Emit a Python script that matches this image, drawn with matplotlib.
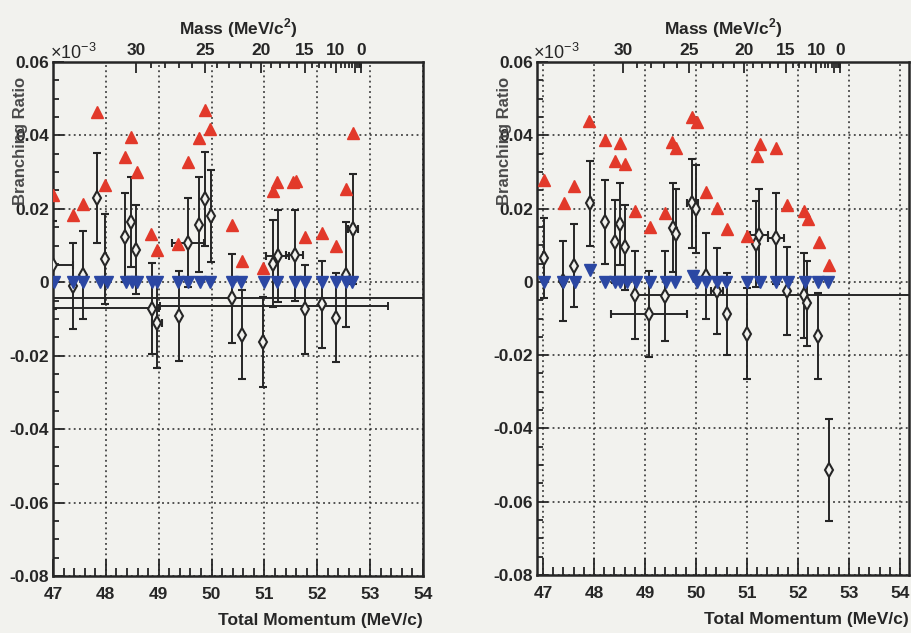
import numpy as np
import matplotlib
matplotlib.use("Agg")
import matplotlib.pyplot as plt
from matplotlib.ticker import MultipleLocator, FixedLocator, NullFormatter

plt.rcParams['font.family'] = ['Liberation Sans', 'DejaVu Sans']
plt.rcParams['mathtext.fontset'] = 'custom'
plt.rcParams['mathtext.rm'] = 'Liberation Sans'
plt.rcParams['mathtext.bf'] = 'Liberation Sans:bold'

BG = '#f2f2ee'
INK = '#262626'
RED = '#e2392a'
BLUE = '#2b47a3'

M_MU = 105.658
M_E = 0.511

# ---------------- left panel ----------------
L_up_p = [47.00, 47.37, 47.57, 47.83, 47.98, 48.36, 48.47, 48.58, 48.85, 48.97,
          49.37, 49.55, 49.76, 49.87, 49.97, 50.39, 50.58, 50.98, 51.16, 51.24,
          51.54, 51.59, 51.76, 52.08, 52.36, 52.55, 52.68]
L_up_br = [0.0239, 0.0182, 0.0214, 0.0465, 0.0264, 0.0341, 0.0395, 0.0300, 0.0132, 0.0089,
           0.0105, 0.0327, 0.0394, 0.0468, 0.0418, 0.0155, 0.0057, 0.0040, 0.0248, 0.0273,
           0.0273, 0.0276, 0.0122, 0.0135, 0.0099, 0.0253, 0.0407]

L_lo_p = [47.01, 47.38, 47.57, 47.89, 48.02, 48.38, 48.49, 48.58, 48.87, 48.97,
          49.37, 49.56, 49.78, 49.97, 50.38, 50.55, 50.99, 51.23, 51.57, 51.76,
          52.09, 52.36, 52.55, 52.66]
L_lo_br = [0.0] * len(L_lo_p)

L_pt_p = [47.00, 47.38, 47.57, 47.84, 47.98, 48.37, 48.47, 48.57, 48.87, 48.97,
          49.38, 49.56, 49.77, 49.87, 49.98, 50.38, 50.57, 50.98, 51.16, 51.25,
          51.57, 51.76, 52.09, 52.36, 52.55, 52.68]
L_pt_br = [0.0046, -0.0011, 0.0021, 0.0229, 0.0064, 0.0122, 0.0164, 0.0089, -0.0072, -0.0111,
           -0.0092, 0.0108, 0.0157, 0.0226, 0.0180, -0.0044, -0.0143, -0.0163, 0.0051, 0.0071,
           0.0073, -0.0074, -0.0060, -0.0096, 0.0021, 0.0146]
L_pt_err = [0.0120, 0.0117, 0.0120, 0.0122, 0.0123, 0.0120, 0.0122, 0.0122, 0.0124, 0.0122,
            0.0122, 0.0122, 0.0129, 0.0128, 0.0125, 0.0122, 0.0121, 0.0123, 0.0118, 0.0125,
            0.0123, 0.0120, 0.0119, 0.0120, 0.0143, 0.0150]
L_pt_xerr = [0.38, 0, 0, 0, 0, 0, 0, 0, 0, 0.10,
             0, 0.30, 0, 0, 0, 0, 0, 0, 0, 0.22,
             0.16, 0, 0, 0, 0, 0.09]

L_wide_br = [-0.0044, -0.0071, -0.0065]
L_wide_p0 = [46.5, 46.5, 49.02]
L_wide_p1 = [54.5, 49.00, 53.33]

# ---------------- right panel ----------------
R_up_p = [47.02, 47.41, 47.61, 47.91, 48.21, 48.41, 48.51, 48.60, 48.80, 49.09,
          49.40, 49.53, 49.60, 49.93, 50.01, 50.20, 50.41, 50.61, 51.00, 51.19,
          51.25, 51.57, 51.79, 52.11, 52.19, 52.41, 52.60]
R_up_br = [0.0278, 0.0216, 0.0262, 0.0439, 0.0386, 0.0330, 0.0380, 0.0322, 0.0193, 0.0150,
           0.0189, 0.0382, 0.0366, 0.0450, 0.0437, 0.0246, 0.0202, 0.0145, 0.0125, 0.0343,
           0.0375, 0.0366, 0.0209, 0.0193, 0.0171, 0.0109, 0.0045]

R_lo_p = [47.01, 47.40, 47.63, 47.92, 48.21, 48.41, 48.51, 48.64, 48.82, 49.09,
          49.41, 49.58, 49.95, 50.01, 50.19, 50.41, 50.59, 50.99, 51.25, 51.57,
          51.80, 52.13, 52.39, 52.58]
R_lo_br = [0.0, 0.0, 0.0, 0.0032, 0.0, 0.0, 0.0, 0.0, 0.0, 0.0,
           0.0, 0.0, 0.0015, 0.0, 0.0, 0.0, 0.0, 0.0, 0.0, 0.0,
           0.0, 0.0, 0.0, 0.0]

R_pt_p = [47.02, 47.40, 47.61, 47.92, 48.21, 48.41, 48.50, 48.60, 48.81, 49.08,
          49.40, 49.54, 49.60, 49.93, 50.00, 50.19, 50.41, 50.61, 51.00, 51.18,
          51.24, 51.57, 51.79, 52.11, 52.18, 52.39, 52.61]
R_pt_br = [0.0065, 0.0003, 0.0044, 0.0214, 0.0164, 0.0110, 0.0159, 0.0095, -0.0036, -0.0088,
           -0.0038, 0.0148, 0.0130, 0.0214, 0.0200, 0.0016, -0.0025, -0.0088, -0.0141, 0.0103,
           0.0127, 0.0119, -0.0026, -0.0037, -0.0059, -0.0148, -0.0513]
R_pt_err = [0.0110, 0.0109, 0.0113, 0.0116, 0.0114, 0.0113, 0.0112, 0.0116, 0.0120, 0.0118,
            0.0123, 0.0122, 0.0123, 0.0121, 0.0120, 0.0118, 0.0117, 0.0112, 0.0125, 0.0118,
            0.0126, 0.0124, 0.0120, 0.0117, 0.0117, 0.0117, 0.0139]
R_pt_xerr = [0, 0, 0, 0, 0, 0, 0, 0, 0, 0.745,
             0, 0, 0, 0.10, 0, 0, 0.11, 0, 0, 0,
             0.18, 0.16, 0, 0, 0, 0, 0]

R_wide_br = [-0.0035]
R_wide_p0 = [48.82]
R_wide_p1 = [54.6]

mass_major = [30, 25, 20, 15, 10, 5, 0]
mass_labels = ['30', '25', '20', '15', '10', '', '0']
mass_minor = [m for m in range(0, 31) if m not in mass_major]


def mass_to_p(m):
    e = (M_MU**2 + M_E**2 - np.asarray(m, dtype=float)**2) / (2 * M_MU)
    return np.sqrt(e**2 - M_E**2)


W, H = 911, 633


def box(x0, y0, x1, y1):
    return [x0 / W, 1 - y1 / H, (x1 - x0) / W, (y1 - y0) / H]


def draw_panel(ax, xlim, up_p, up_br, lo_p, lo_br, pt_p, pt_br, pt_err, pt_xerr,
               wide_br, wide_p0, wide_p1):
    ax.set_facecolor(BG)
    ax.set_xlim(*xlim)
    ax.set_ylim(-0.08, 0.06)

    # grid
    ax.xaxis.set_major_locator(MultipleLocator(1))
    ax.xaxis.set_minor_locator(MultipleLocator(0.2))
    ax.yaxis.set_major_locator(MultipleLocator(0.02))
    ax.yaxis.set_minor_locator(MultipleLocator(0.005))
    ax.grid(True, which='major', color=INK, lw=1.1, ls=(0, (1.2, 2.2)))
    ax.set_axisbelow(True)

    wide_c = [(a + b) / 2 for a, b in zip(wide_p0, wide_p1)]
    wide_e = [(b - a) / 2 for a, b in zip(wide_p0, wide_p1)]
    ax.errorbar(wide_c, wide_br, xerr=wide_e, fmt='none', ecolor=INK,
                elinewidth=1.4, capsize=3, capthick=1.4)

    ax.errorbar(pt_p, pt_br, yerr=pt_err, xerr=pt_xerr, fmt='d', ms=7.5,
                mfc=BG, mec=INK, mew=1.5, ecolor=INK, elinewidth=1.4,
                capsize=3, capthick=1.4, zorder=3)

    ax.plot(up_p, up_br, ls='none', marker='^', ms=8.5, color=RED, mec=RED, zorder=4)
    ax.plot(lo_p, lo_br, ls='none', marker='v', ms=8.5, color=BLUE, mec=BLUE, zorder=4)

    ax.tick_params(axis='both', which='both', direction='in', top=False, right=False,
                   colors=INK, labelsize=12.5, width=1.3)
    ax.tick_params(axis='x', which='major', length=12, pad=8)
    ax.tick_params(axis='x', which='minor', length=6)
    ax.tick_params(axis='y', which='major', length=8, pad=3)
    ax.tick_params(axis='y', which='minor', length=4)
    ax.set_yticks([0.06, 0.04, 0.02, 0, -0.02, -0.04, -0.06, -0.08])
    ax.set_yticklabels(['0.06', '0.04', '0.02', '0', '-0.02', '-0.04', '-0.06', '-0.08'],
                       fontweight='bold')
    ax.set_xticks(range(47, 55))
    ax.set_xticklabels([str(v) for v in range(47, 55)], fontweight='bold')
    for s in ax.spines.values():
        s.set_linewidth(1.8)
        s.set_color(INK)

    # mass axis on top
    top = ax.twiny()
    top.set_xlim(*xlim)
    top.xaxis.set_major_locator(FixedLocator(mass_to_p(mass_major)))
    top.xaxis.set_minor_locator(FixedLocator(mass_to_p(mass_minor)))
    top.xaxis.set_minor_formatter(NullFormatter())
    top.set_xticklabels(mass_labels, fontweight='bold')
    top.tick_params(axis='x', which='both', direction='in', colors=INK,
                    labelsize=12.5, width=1.3, pad=3)
    top.tick_params(axis='x', which='major', length=8)
    top.tick_params(axis='x', which='minor', length=4)
    for s in top.spines.values():
        s.set_visible(False)
    top.set_xlabel(r'Mass (MeV/c$^{\mathbf{2}}$)', fontsize=12.5, fontweight='bold',
                   color=INK, labelpad=6)
    ax.set_xlabel('Total Momentum (MeV/c)', fontsize=12.5, fontweight='bold',
                  color=INK, loc='right', labelpad=8)
    return top


fig = plt.figure(figsize=(W / 100, H / 100), dpi=100, facecolor=BG)

axL = fig.add_axes(box(53, 62, 423, 576))
draw_panel(axL, (47.0, 54.0), L_up_p, L_up_br, L_lo_p, L_lo_br, L_pt_p, L_pt_br,
           L_pt_err, L_pt_xerr, L_wide_br, L_wide_p0, L_wide_p1)

axR = fig.add_axes(box(537, 62, 909, 575))
draw_panel(axR, (46.882, 54.176), R_up_p, R_up_br, R_lo_p, R_lo_br, R_pt_p, R_pt_br,
           R_pt_err, R_pt_xerr, R_wide_br, R_wide_p0, R_wide_p1)

# axis titles and exponent labels (overlapping the tick labels as in the original)
fig.text(21 / W, 1 - 77 / H, 'Branching Ratio', rotation=90, ha='center', va='top',
         fontsize=12, fontweight='bold', color='#4a4a4a')
fig.text(505 / W, 1 - 77 / H, 'Branching Ratio', rotation=90, ha='center', va='top',
         fontsize=12, fontweight='bold', color='#4a4a4a')
fig.text(50 / W, 1 - 53 / H, r'$\times10^{-3}$', ha='left', va='center',
         fontsize=13, color=INK)
fig.text(533 / W, 1 - 53 / H, r'$\times10^{-3}$', ha='left', va='center',
         fontsize=13, color=INK)

fig.savefig('out.png', dpi=100, facecolor=BG)
